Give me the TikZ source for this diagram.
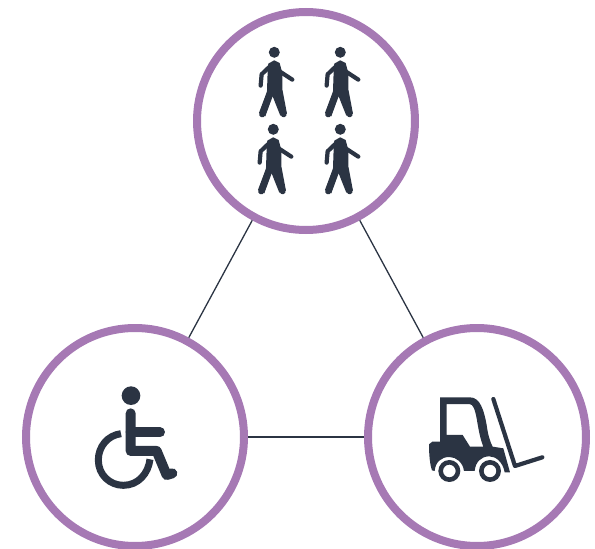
\documentclass[tikz,border=0pt]{standalone}
\definecolor{ringc}{HTML}{A679B4}
\definecolor{iconc}{HTML}{2B3443}
\tikzset{
  ring/.style={circle,draw=ringc,line width=8pt,minimum size=218pt,inner sep=0pt,fill=white},
  link/.style={draw=iconc,line width=1.3pt},
  limb/.style={draw=iconc,line cap=round,line join=round},
  iconshape/.style={fill=iconc,draw=none},
  iconscale/.style={x=0.3333pt,y=-0.3333pt}
}
\newcommand{\personicon}[2]{%
  \begin{scope}[shift={(#1,#2)},iconscale]
    \fill[iconshape] (0,0) circle[radius=16.5];
    \fill[iconshape] (0,24) -- (16,32) -- (24,62) -- (24,110) -- (38,184) -- (18,190) -- (-5,132) -- (-27,192) -- (-46,182) -- (-22,118) -- (-20,60) -- (-18,34) -- cycle;
    \draw[limb,line width=4.2pt] (-15,44) -- (-38,66) -- (-41,100);
    \draw[limb,line width=4.2pt] (14,56) -- (54,82);
    \draw[limb,line width=6.2pt] (-9,112) -- (-36,186);
    \draw[limb,line width=6pt] (8,112) -- (28,186);
  \end{scope}}
\begin{document}
\begin{tikzpicture}[x=1pt,y=-1pt]
\useasboundingbox (0,0) rectangle (595,549);
\node[ring] (top) at (306,121) {};
\node[ring] (left) at (135,437) {};
\node[ring] (right) at (477,437) {};
\draw[link] (top) -- (left);
\draw[link] (top) -- (right);
\draw[link] (left) -- (right);
\personicon{274.3}{52.3}
\personicon{340.3}{52.3}
\personicon{273.3}{129.3}
\personicon{340.3}{129.3}
% wheelchair
\begin{scope}[shift={(85,375)},iconscale]
  \fill[iconshape] (138,62) circle[radius=28];
  \draw[draw=iconc,line width=7pt] (108,176) .. controls (68,181) and (40,215) .. (40,255) .. controls (40,300) and (75,331) .. (115,331) .. controls (160,331) and (190,295) .. (195,253);
  \draw[limb,line width=10pt] (137,115) -- (137,228) -- (215,228) -- (245,300) -- (262,295);
  \draw[limb,line width=10pt] (137,172) -- (225,172);
\end{scope}
% forklift
\begin{scope}[shift={(420,385)},iconscale]
  \fill[iconshape,even odd rule] (60,37) -- (150,37) .. controls (180,37) and (192,75) .. (200,120) .. controls (204,150) and (210,170) .. (218,185) -- (250,190) -- (270,262) -- (254,262) .. controls (249,232) and (228,214) .. (208,214) .. controls (183,214) and (166,232) .. (164,258) -- (132,258) .. controls (129,232) and (108,216) .. (88,216) .. controls (63,216) and (46,232) .. (44,258) -- (36,256) .. controls (30,240) and (27,210) .. (27,178) -- (37,170) -- (60,170) -- cycle
  (80,57) -- (80,150) -- (128,150) -- (150,185) -- (190,185) .. controls (180,160) and (175,130) .. (170,100) .. controls (165,75) and (160,57) .. (148,57) -- cycle;
  \fill[iconshape,even odd rule] (88,258) circle[radius=33] (88,258) circle[radius=19];
  \fill[iconshape,even odd rule] (210,258) circle[radius=33] (210,258) circle[radius=19];
  \draw[limb,line width=4.2pt] (220,42) -- (285,243) -- (367,217);
\end{scope}
\end{tikzpicture}
\end{document}
